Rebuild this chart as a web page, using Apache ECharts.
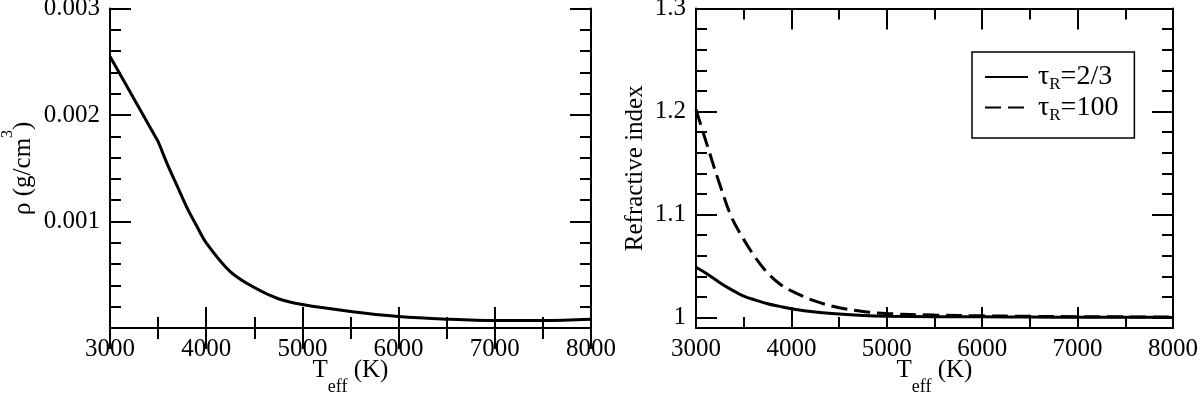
<!DOCTYPE html>
<html>
<head>
<meta charset="utf-8">
<script src="https://cdn.jsdelivr.net/npm/echarts@6/dist/echarts.min.js"></script>
<style>html,body{margin:0;padding:0;background:#fff}#c{width:1200px;height:395px}</style>
</head>
<body>
<div id="c"></div>
<script>
// ---- data ----
var tempLeft = [3000, 3250, 3450, 3500, 3550, 3600, 3700, 3800, 3900, 4000, 4250, 4500, 4750, 5000, 5500, 6000, 6500, 7000, 7500, 8000];
var density = [0.00255, 0.00215, 0.00183, 0.00175, 0.00164, 0.00153, 0.00133, 0.00113, 0.00096, 0.00080, 0.00053, 0.00038, 0.000275, 0.00022, 0.000155, 0.000108, 0.000083, 0.00007, 0.00007, 0.000082];

var tempRight = [3000, 3125, 3250, 3375, 3500, 3625, 3750, 3875, 4000, 4250, 4500, 4750, 5000, 5500, 6000, 6500, 7000, 7500, 8000];
var refrTau23 = [1.049, 1.042, 1.034, 1.027, 1.021, 1.017, 1.0135, 1.011, 1.0087, 1.0055, 1.0035, 1.0022, 1.0015, 1.0010, 1.0008, 1.0006, 1.0005, 1.0004, 1.0003];
var refrTau100 = [1.202, 1.165, 1.129, 1.097, 1.076, 1.058, 1.0435, 1.033, 1.026, 1.016, 1.0097, 1.006, 1.004, 1.0025, 1.0018, 1.0013, 1.001, 1.0008, 1.0006];

var xTicks = [3000, 4000, 5000, 6000, 7000, 8000];
var rightMajor = [1.0, 1.1, 1.2, 1.3];
var rightMinor = [1.02, 1.04, 1.06, 1.08, 1.12, 1.14, 1.16, 1.18, 1.22, 1.24, 1.26, 1.28];
var seriesNames = ['τR=2/3', 'τR=100'];

// ---- chart ----
var FONT = 'Liberation Serif';
function zip(xs, ys) { return xs.map(function (x, i) { return [x, ys[i]]; }); }

var lineAx = { show: true, lineStyle: { color: '#000', width: 2 } };
function xAxisDef(gi, pos, withLabels, name) {
  return {
    type: 'value', gridIndex: gi, position: pos, min: 3000, max: 8000, interval: 1000,
    axisLine: lineAx,
    axisTick: { show: true, inside: true, length: 21, lineStyle: { color: '#000', width: 2 } },
    minorTick: { show: true, splitNumber: 2, length: 11, lineStyle: { color: '#000', width: 2 } },
    splitLine: { show: false }, minorSplitLine: { show: false },
    axisLabel: { show: withLabels, margin: 9, color: '#000', fontFamily: FONT, fontSize: 25,
      formatter: function (v) { return String(Math.round(v)); } },
    name: name || '', nameLocation: 'middle', nameGap: 16, nameMoveOverlap: false,
    nameTextStyle: { color: '#000', fontFamily: FONT,
      rich: { m: { fontSize: 25, lineHeight: 52, fontFamily: FONT, color: '#000' },
              s: { fontSize: 18, lineHeight: 18, verticalAlign: 'bottom', fontFamily: FONT, color: '#000' } } }
  };
}

var tickStyle = { color: '#000', width: 2 };
var yAxes = [
  { type: 'value', gridIndex: 0, position: 'left', min: 0, max: 0.003, interval: 0.001,
    axisLine: lineAx,
    axisTick: { show: true, inside: true, length: 21, lineStyle: tickStyle },
    minorTick: { show: true, splitNumber: 5, length: 11, lineStyle: tickStyle },
    splitLine: { show: false }, minorSplitLine: { show: false },
    axisLabel: { show: true, margin: 10, color: '#000', fontFamily: FONT, fontSize: 25, showMinLabel: false,
      formatter: function (v) { return v < 1e-9 ? '' : v.toFixed(3); } },
    name: '{m|ρ (g/cm}{p|3}{m|)}', nameLocation: 'middle', nameGap: 63, nameMoveOverlap: false,
    nameTextStyle: { color: '#000', fontFamily: FONT,
      rich: { m: { fontSize: 25, lineHeight: 47, fontFamily: FONT, color: '#000' },
              p: { fontSize: 16, lineHeight: 16, verticalAlign: 'top', fontFamily: FONT, color: '#000' } } } },
  { type: 'value', gridIndex: 0, position: 'right', min: 0, max: 0.003, interval: 0.001,
    axisLine: lineAx,
    axisTick: { show: true, inside: true, length: 21, lineStyle: tickStyle },
    minorTick: { show: true, splitNumber: 5, length: 11, lineStyle: tickStyle },
    splitLine: { show: false }, minorSplitLine: { show: false }, axisLabel: { show: false } },
  { type: 'value', gridIndex: 1, position: 'left', min: 0.99, max: 1.3,
    axisLine: lineAx,
    axisTick: { show: true, inside: true, length: 21, lineStyle: tickStyle, customValues: rightMajor },
    splitLine: { show: false },
    axisLabel: { show: true, margin: 10, color: '#000', fontFamily: FONT, fontSize: 25, customValues: rightMajor,
      formatter: function (v) { return String(Math.round(v * 10) / 10); } },
    name: 'Refractive index', nameLocation: 'middle', nameGap: 48, nameMoveOverlap: false,
    nameTextStyle: { color: '#000', fontFamily: FONT, fontSize: 25 } },
  { type: 'value', gridIndex: 1, position: 'left', min: 0.99, max: 1.3,
    axisLine: { show: false },
    axisTick: { show: true, inside: true, length: 11, lineStyle: tickStyle, customValues: rightMinor },
    splitLine: { show: false }, axisLabel: { show: false } },
  { type: 'value', gridIndex: 1, position: 'right', min: 0.99, max: 1.3,
    axisLine: lineAx,
    axisTick: { show: true, inside: true, length: 21, lineStyle: tickStyle, customValues: rightMajor },
    splitLine: { show: false }, axisLabel: { show: false } },
  { type: 'value', gridIndex: 1, position: 'right', min: 0.99, max: 1.3,
    axisLine: { show: false },
    axisTick: { show: true, inside: true, length: 11, lineStyle: tickStyle, customValues: rightMinor },
    splitLine: { show: false }, axisLabel: { show: false } }
];

var xName = '{m|T}{s|eff}{m| (K)}';
var option = {
  animation: false,
  backgroundColor: '#fff',
  grid: [
    { left: 110, top: 8.5, width: 481, height: 319.5, outerBoundsMode: 'none', containLabel: false },
    { left: 696, top: 8.5, width: 477, height: 319.5, outerBoundsMode: 'none', containLabel: false }
  ],
  xAxis: [
    xAxisDef(0, 'bottom', true, xName),
    xAxisDef(0, 'top', false),
    xAxisDef(1, 'bottom', true, xName),
    xAxisDef(1, 'top', false)
  ],
  yAxis: yAxes,
  legend: {
    orient: 'vertical', left: 972, top: 52,
    padding: [11, 16, 14, 12], itemGap: 0, itemWidth: 43, itemHeight: 14,
    borderColor: '#000', borderWidth: 1.5, backgroundColor: '#fff',
    selectedMode: false,
    data: seriesNames,
    itemStyle: { opacity: 0 },
    formatter: function (n) { return '{t|τ}{s|R}{u|' + n.slice(2) + '}'; },
    textStyle: { color: '#000', fontFamily: FONT,
      rich: { t: { fontSize: 28, lineHeight: 33, fontFamily: FONT, color: '#000', padding: [0, 0, 0, 5] },
              u: { fontSize: 28, lineHeight: 33, fontFamily: FONT, color: '#000' },
              s: { fontSize: 17, lineHeight: 10, verticalAlign: 'bottom', fontFamily: FONT, color: '#000' } } }
  },
  series: [
    { type: 'line', name: 'rho', xAxisIndex: 0, yAxisIndex: 0, data: zip(tempLeft, density),
      symbol: 'none', smooth: 0.35, lineStyle: { color: '#000', width: 3 }, itemStyle: { color: '#000' } },
    { type: 'line', name: seriesNames[0], xAxisIndex: 2, yAxisIndex: 2, data: zip(tempRight, refrTau23),
      symbol: 'none', smooth: 0.35, lineStyle: { color: '#000', width: 3 }, itemStyle: { color: '#000' } },
    { type: 'line', name: seriesNames[1], xAxisIndex: 2, yAxisIndex: 2, data: zip(tempRight, refrTau100),
      symbol: 'none', smooth: 0.35, lineStyle: { color: '#000', width: 3, type: [16, 7] }, itemStyle: { color: '#000' } }
  ]
};
var chart = echarts.init(document.getElementById('c'), null, { renderer: 'canvas' });
chart.setOption(option);
</script>
</body>
</html>
